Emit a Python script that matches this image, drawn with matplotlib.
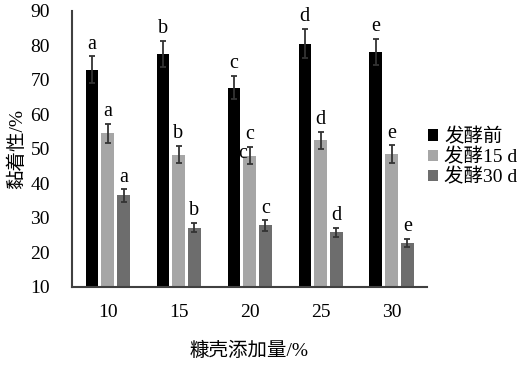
import matplotlib
matplotlib.use("Agg")
import matplotlib.pyplot as plt
import numpy as np

plt.rcParams['font.family'] = ['Liberation Serif', 'Noto Sans CJK SC']

# data
amounts = ['10', '15', '20', '25', '30']
series_names = ['发酵前', '发酵15 d', '发酵30 d']
before = [73.0, 77.5, 67.8, 80.5, 78.0]
before_err = [3.8, 3.8, 3.4, 4.2, 3.8]
day15 = [54.5, 48.3, 48.0, 52.5, 48.5]
day15_err = [2.8, 2.5, 2.5, 2.5, 2.5]
day30 = [36.5, 27.2, 27.8, 25.8, 22.7]
day30_err = [1.8, 1.3, 1.5, 1.3, 1.2]
letters = ['a', 'b', 'c', 'd', 'e']

colors = ['#000000', '#a6a6a6', '#6d6d6d']
values = [before, day15, day30]
errors = [before_err, day15_err, day30_err]

fig = plt.figure(figsize=(5.22, 3.65), dpi=100)
ax = fig.add_axes([0.138, 0.214, 0.68, 0.756])

x = np.arange(len(amounts))
width = 0.17
step = 0.225
for i in range(3):
    xs = x + (i - 1) * step
    ax.bar(xs, values[i], width, bottom=0, color=colors[i], label=series_names[i],
           yerr=errors[i], error_kw=dict(ecolor='#333333', capsize=2.5, elinewidth=1.3, capthick=1.3))
    for j in range(len(amounts)):
        ax.text(xs[j], values[i][j] + errors[i][j] + 0.8, letters[j],
                ha='center', va='bottom', fontsize=14.5)

# stray duplicate label seen in the reference, partly behind the error bar
ax.text(x[2] - 0.1, 48.6, 'c', ha='center', va='center', fontsize=14.5, zorder=1)

ax.set_ylim(10, 90)
ax.set_xlim(-0.5, 4.5)
ax.set_yticks(range(10, 91, 10))
ax.set_xticks(x)
ax.set_xticklabels(amounts)
ax.tick_params(length=0, labelsize=14)
ax.tick_params(axis='y', pad=16)
ax.tick_params(axis='x', pad=12)
for s in ['top', 'right']:
    ax.spines[s].set_visible(False)
for s in ['left', 'bottom']:
    ax.spines[s].set_color('#404040')
    ax.spines[s].set_linewidth(1.5)

ax.set_ylabel('黏着性/%', fontsize=14, labelpad=3)
ax.set_xlabel('糠壳添加量/%', fontsize=14, labelpad=15)

ax.legend(loc='center left', bbox_to_anchor=(0.98, 0.47), frameon=False, fontsize=14,
          handlelength=0.55, handleheight=0.55, handletextpad=0.3, labelspacing=0.1,
          borderaxespad=0)

fig.savefig('out.png', dpi=100)
